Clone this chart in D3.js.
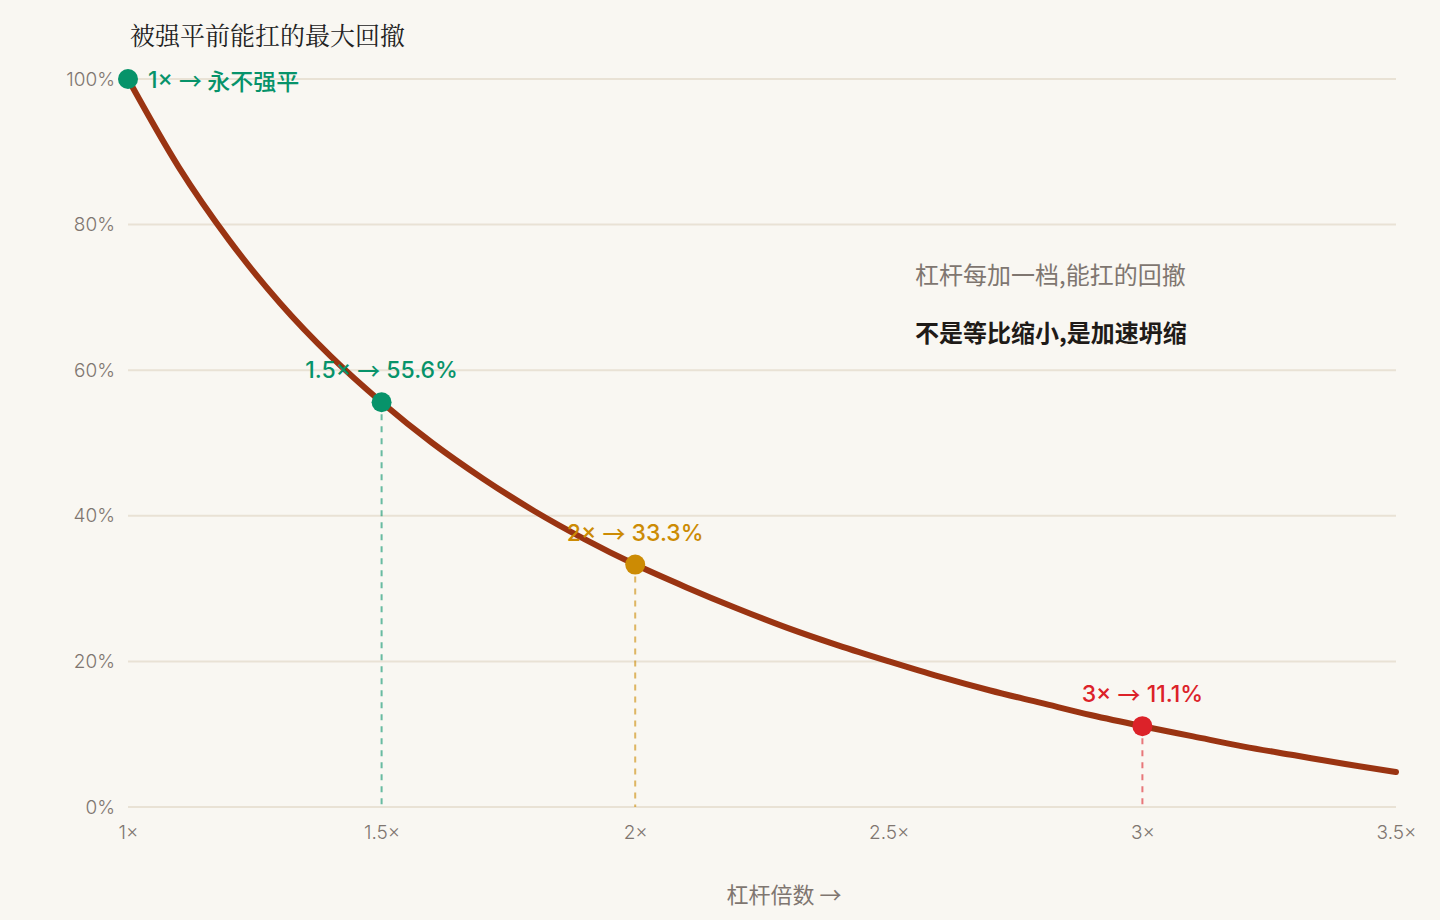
<!DOCTYPE html>
<html>
<head>
<meta charset="utf-8">
<script src="https://cdn.jsdelivr.net/npm/d3@7"></script>
<style>
  html, body { margin: 0; padding: 0; background: #f9f7f2; }
  svg { display: block; }
</style>
</head>
<body>
<div id="chart"></div>
<script>
// ---- data ----
const leverage = [1.0, 1.1, 1.2, 1.3, 1.4, 1.5, 1.6, 1.7, 1.8, 1.9, 2.0, 2.1, 2.2, 2.3, 2.4, 2.5, 2.6, 2.7, 2.8, 2.9, 3.0, 3.1, 3.2, 3.3, 3.4, 3.5];
const maxDrawdown = [100, 87.9, 77.8, 69.2, 61.9, 55.6, 50.0, 45.1, 40.7, 36.8, 33.3, 30.2, 27.3, 24.6, 22.2, 20.0, 17.9, 16.0, 14.3, 12.6, 11.1, 9.7, 8.3, 7.1, 5.9, 4.8];
const markerLev = [1, 1.5, 2, 3];
const markerVal = [100, 55.6, 33.3, 11.1];
const markerLeft = ["1×", "1.5×", "2×", "3×"];
const markerRight = ["永不强平", "55.6%", "33.3%", "11.1%"];
const markerColor = ["#07936a", "#07936a", "#cc8b04", "#dc2229"];
const xTicks = [1, 1.5, 2, 2.5, 3, 3.5];
const xTickLabels = ["1×", "1.5×", "2×", "2.5×", "3×", "3.5×"];
const yTicks = [0, 20, 40, 60, 80, 100];
const yTickLabels = ["0%", "20%", "40%", "60%", "80%", "100%"];
const title = "被强平前能扛的最大回撤";
const xAxisTitle = "杠杆倍数";
const note1 = "杠杆每加一档,能扛的回撤";
const note2 = "不是等比缩小,是加速坍缩";

// ---- layout ----
const W = 1440, H = 920;
const m = { left: 128, right: 44, top: 79, bottom: 113 };
const sans = "Inter, 'Noto Sans CJK SC', 'Noto Sans', sans-serif";
const cjk = "'Noto Sans CJK SC', Inter, sans-serif";
const grey = "#7f7670";

const svg = d3.select("#chart").append("svg").attr("width", W).attr("height", H);
svg.append("rect").attr("width", W).attr("height", H).attr("fill", "#f9f7f2");

const x = d3.scaleLinear().domain([1, 3.5]).range([m.left, W - m.right]);
const y = d3.scaleLinear().domain([0, 100]).range([H - m.bottom, m.top]);

// gridlines
svg.append("g").selectAll("line").data(yTicks).join("line")
  .attr("x1", x(1)).attr("x2", x(3.5))
  .attr("y1", d => y(d)).attr("y2", d => y(d))
  .attr("stroke", "#e9e2d5").attr("stroke-width", 2);

// y axis labels
const yAxis = d3.axisLeft(y).tickValues(yTicks).tickFormat((d, i) => yTickLabels[i]).tickSize(0).tickPadding(13);
const gy = svg.append("g").attr("transform", `translate(${m.left},0)`).call(yAxis);
gy.select(".domain").remove();
gy.selectAll("text").attr("fill", grey).attr("font-size", 19).attr("font-weight", 300).attr("font-family", sans);

// x axis labels
const xAxis = d3.axisBottom(x).tickValues(xTicks).tickFormat((d, i) => xTickLabels[i]).tickSize(0).tickPadding(19);
const gx = svg.append("g").attr("transform", `translate(0,${y(0)})`).call(xAxis);
gx.select(".domain").remove();
gx.selectAll("text").attr("fill", grey).attr("font-size", 19).attr("font-weight", 300).attr("font-family", sans);

// drop lines
markerLev.forEach((l, i) => {
  if (i === 0) return;
  svg.append("line")
    .attr("x1", x(l)).attr("x2", x(l))
    .attr("y1", y(markerVal[i])).attr("y2", y(0))
    .attr("stroke", markerColor[i]).attr("stroke-opacity", 0.6)
    .attr("stroke-width", 2).attr("stroke-dasharray", "6,6");
});

// curve
const line = d3.line().x((d, i) => x(leverage[i])).y(d => y(d)).curve(d3.curveMonotoneX);
svg.append("path").datum(maxDrawdown)
  .attr("d", line).attr("fill", "none")
  .attr("stroke", "#9a3412").attr("stroke-width", 6)
  .attr("stroke-linecap", "round").attr("stroke-linejoin", "round");

// markers
markerLev.forEach((l, i) => {
  svg.append("circle").attr("cx", x(l)).attr("cy", y(markerVal[i])).attr("r", 10)
    .attr("fill", markerColor[i]);
  const t = svg.append("text")
    .attr("fill", markerColor[i]).attr("font-size", 23).attr("font-weight", 500)
    .attr("font-family", sans).attr("dominant-baseline", "central");
  t.append("tspan").text(markerLeft[i] + " ");
  t.append("tspan").attr("font-family", cjk).text("→");
  t.append("tspan").attr("font-family", i === 0 ? cjk : sans).text(" " + markerRight[i]);
  if (i === 0) {
    t.attr("x", x(l) + 20).attr("y", y(markerVal[i]) + 1).attr("text-anchor", "start");
  } else {
    t.attr("x", x(l)).attr("y", y(markerVal[i]) - 32).attr("text-anchor", "middle");
  }
});

// title
svg.append("text").attr("x", 130).attr("y", 45)
  .attr("font-size", 25).attr("fill", "#222")
  .attr("font-family", "'Noto Serif CJK SC', 'Source Han Serif SC', 'Songti SC', SimSun, serif")
  .text(title);

// notes
svg.append("text").attr("x", 915).attr("y", 284)
  .attr("font-size", 24).attr("fill", grey).attr("font-family", cjk)
  .text(note1);
svg.append("text").attr("x", 915).attr("y", 342)
  .attr("font-size", 24).attr("font-weight", 700).attr("fill", "#1f1b18").attr("font-family", cjk)
  .text(note2);

// x axis title
const xt = svg.append("text").attr("x", 784).attr("y", 903).attr("text-anchor", "middle")
  .attr("font-size", 22).attr("fill", grey).attr("font-family", cjk);
xt.append("tspan").text(xAxisTitle + " →");
</script>
</body>
</html>
